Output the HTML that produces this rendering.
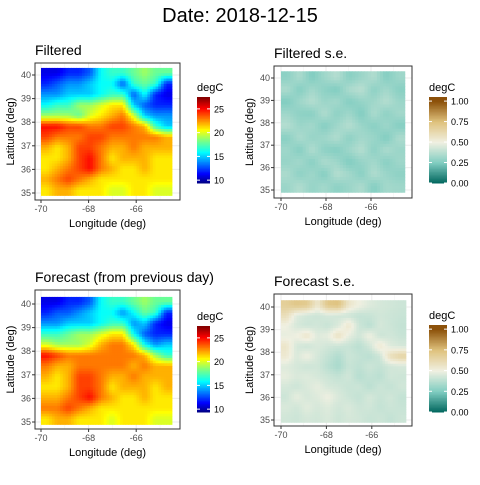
<!DOCTYPE html>
<html><head><meta charset="utf-8"><style>
body{margin:0;background:#fff;font-family:"Liberation Sans",sans-serif;}
svg text{font-family:"Liberation Sans",sans-serif;}
</style></head><body>
<svg id="c" width="480" height="480" xmlns="http://www.w3.org/2000/svg">
<text x="240" y="22" font-size="20" text-anchor="middle" fill="#000">Date: 2018-12-15</text>
</svg>
<script>
const lonTicks=[-70,-68,-66];
const latTicks=[35,36,37,38,39,40];
const tempTicks=[10,15,20,25];
const seTicks=[0,0.25,0.5,0.75,1];
const seTickLabels=["0.00","0.25","0.50","0.75","1.00"];
const filteredTemp=[
[11,11,12,12,13,16,17,17,18,19,18,18],
[12,13,14,14,15,16,16,13,17,18,17,12],
[14,14,15,15,15,16,17,17,13,16,12,11],
[16,17,17,19,19,20,21,21,15,13,12,12],
[19,19,19,18,20,21,22,23,20,15,14,14],
[25,25,24,24,23,23,24,24,23,22,17,15],
[24,23,23,23,24,24,23,23,23,23,23,22],
[22,21,22,24,24,23,22,22,23,22,22,22],
[21,21,22,24,25,23,21,22,22,22,21,21],
[21,22,23,24,25,23,22,21,21,22,21,21],
[22,23,24,23,22,21,21,21,21,21,21,21],
[21,22,22,21,21,21,20,20,21,21,20,20]];
const forecastTemp=[
[11,11,12,12,13,16,17,17,18,19,18,18],
[12,13,13,14,15,16,16,14,16,18,17,12],
[14,14,15,15,15,16,17,17,14,15,12,11],
[17,17,18,19,19,20,21,21,16,13,12,12],
[20,19,19,19,20,22,23,23,21,16,14,15],
[25,24,23,23,23,23,23,23,23,22,19,17],
[23,22,22,23,23,23,23,23,22,23,22,22],
[22,21,22,24,24,23,22,22,23,22,22,22],
[21,21,22,24,24,23,21,22,22,22,21,22],
[22,22,23,24,25,23,22,21,21,22,21,21],
[23,23,24,23,22,21,21,21,21,21,21,21],
[21,22,22,21,21,21,20,21,21,21,20,20]];
const filteredSE=[
[0.28,0.35,0.25,0.32,0.37,0.27,0.31,0.36,0.26,0.32],
[0.35,0.26,0.33,0.28,0.25,0.35,0.38,0.28,0.33,0.27],
[0.25,0.32,0.37,0.31,0.33,0.26,0.30,0.32,0.37,0.31],
[0.32,0.28,0.27,0.36,0.28,0.32,0.25,0.35,0.28,0.33],
[0.37,0.31,0.33,0.26,0.32,0.37,0.31,0.27,0.32,0.26],
[0.27,0.35,0.30,0.32,0.36,0.28,0.33,0.31,0.25,0.35],
[0.32,0.26,0.36,0.28,0.26,0.32,0.37,0.28,0.35,0.31],
[0.30,0.33,0.27,0.35,0.32,0.25,0.30,0.33,0.27,0.32],
[0.35,0.28,0.32,0.26,0.37,0.33,0.27,0.36,0.31,0.28],
[0.31,0.36,0.30,0.33,0.28,0.31,0.35,0.26,0.33,0.32]];
const forecastSE=[
[0.68,0.72,0.70,0.55,0.72,0.74,0.56,0.50,0.46,0.44,0.43,0.42],
[0.60,0.46,0.43,0.42,0.44,0.43,0.42,0.40,0.41,0.43,0.42,0.41],
[0.50,0.44,0.42,0.43,0.41,0.45,0.55,0.42,0.38,0.44,0.42,0.40],
[0.48,0.50,0.56,0.46,0.48,0.58,0.48,0.43,0.50,0.42,0.43,0.41],
[0.56,0.44,0.42,0.45,0.43,0.42,0.41,0.38,0.43,0.54,0.46,0.44],
[0.54,0.45,0.50,0.44,0.40,0.36,0.42,0.40,0.38,0.42,0.60,0.66],
[0.46,0.44,0.42,0.43,0.38,0.34,0.41,0.39,0.42,0.40,0.43,0.44],
[0.48,0.45,0.46,0.44,0.42,0.40,0.43,0.37,0.40,0.38,0.43,0.42],
[0.44,0.42,0.45,0.48,0.44,0.43,0.41,0.42,0.38,0.42,0.40,0.43],
[0.42,0.48,0.44,0.46,0.50,0.45,0.42,0.40,0.44,0.41,0.43,0.40],
[0.45,0.43,0.47,0.44,0.46,0.43,0.45,0.42,0.43,0.40,0.42,0.41],
[0.43,0.42,0.44,0.43,0.45,0.42,0.44,0.43,0.41,0.42,0.40,0.42]];

const NS="http://www.w3.org/2000/svg";
const svg=document.getElementById('c');
function el(tag,attrs,parent){const e=document.createElementNS(NS,tag);for(const k in attrs)e.setAttribute(k,attrs[k]);(parent||svg).appendChild(e);return e;}
function lerp(a,b,t){return a.map((v,i)=>Math.round(v+(b[i]-v)*t));}
function ramp(stops,t){t=Math.max(0,Math.min(1,t));for(let i=1;i<stops.length;i++){if(t<=stops[i][0]){const s=stops[i-1],e=stops[i];const c=lerp(s[1],e[1],(t-s[0])/(e[0]-s[0]));return `rgb(${c})`;}}return `rgb(${stops[stops.length-1][1]})`;}
const jet=[[0,[0,0,128]],[0.11,[0,0,255]],[0.36,[0,255,255]],[0.5,[128,255,128]],[0.62,[255,255,0]],[0.87,[255,0,0]],[1,[128,0,0]]];
const brbg=[[0,[1,102,94]],[0.25,[128,205,193]],[0.5,[240,240,225]],[0.75,[223,194,125]],[1,[140,81,10]]];
const tMin=9.4,tMax=27.5;
function jetCol(v){return ramp(jet,(v-tMin)/(tMax-tMin));}
function seCol(v){return ramp(brbg,v);}
function sample(grid,fr,fc){
  const R=grid.length,C=grid[0].length;
  fr=Math.max(0,Math.min(R-1,fr));fc=Math.max(0,Math.min(C-1,fc));
  const r0=Math.floor(fr),c0=Math.floor(fc),r1=Math.min(R-1,r0+1),c1=Math.min(C-1,c0+1);
  const tr=fr-r0,tc=fc-c0;
  const a=grid[r0][c0]*(1-tc)+grid[r0][c1]*tc,b=grid[r1][c0]*(1-tc)+grid[r1][c1]*tc;
  return a*(1-tr)+b*tr;
}

function panel(o){
  const g=el('g',{});
  
  
  const lx=lon=>o.x0+(lon+70)*o.pxLon;
  const ly=lat=>o.y40+(40-lat)*o.pxLat;
  const t=el('text',{x:o.bx,y:o.by-8,'font-size':14,fill:'#000'},g);t.textContent=o.title;
  
  el('rect',{x:o.bx,y:o.by,width:o.bw,height:o.bh,fill:'#fff'},g);
  [-69,-67,-65].forEach(v=>el('line',{x1:lx(v),x2:lx(v),y1:o.by,y2:o.by+o.bh,stroke:'#f0f0f0','stroke-width':0.5},g));
  lonTicks.forEach(v=>el('line',{x1:lx(v),x2:lx(v),y1:o.by,y2:o.by+o.bh,stroke:'#ebebeb','stroke-width':1},g));
  latTicks.forEach(v=>el('line',{x1:o.bx,x2:o.bx+o.bw,y1:ly(v),y2:ly(v),stroke:'#ebebeb','stroke-width':1},g));
  const grid=o.data,R=grid.length,C=grid[0].length;
  const lonA=-70,lonB=-64.5,latA=40.3,latB=34.9;
  const S=4,SR=R*S,SC=C*S;
  const cw=(lx(lonB)-lx(lonA))/SC,ch=(ly(latB)-ly(latA))/SR;
  const hm=el('g',{},g);
  for(let r=0;r<SR;r++)for(let c=0;c<SC;c++){
    const v=sample(grid,(r+0.5)/S-0.5,(c+0.5)/S-0.5);
    const rc=el('rect',{x:(lx(lonA)+c*cw).toFixed(2),y:(ly(latA)+r*ch).toFixed(2),width:(cw+0.5).toFixed(2),height:(ch+0.5).toFixed(2),fill:o.col(v)},hm);
    
    
  }
  el('rect',{x:o.bx,y:o.by,width:o.bw,height:o.bh,fill:'none',stroke:'#333','stroke-width':1},g);
  lonTicks.forEach(v=>{el('line',{x1:lx(v),x2:lx(v),y1:o.by+o.bh,y2:o.by+o.bh+3,stroke:'#333'},g);
    const tx=el('text',{x:lx(v),y:o.by+o.bh+12,'font-size':9,fill:'#4d4d4d','text-anchor':'middle'},g);tx.textContent=v;
    });
  latTicks.forEach(v=>{el('line',{x1:o.bx-3,x2:o.bx,y1:ly(v),y2:ly(v),stroke:'#333'},g);
    const tx=el('text',{x:o.bx-4,y:ly(v)+3,'font-size':9,fill:'#4d4d4d','text-anchor':'end'},g);tx.textContent=v;
    });
  const xt=el('text',{x:o.bx+o.bw/2,y:o.by+o.bh+27,'font-size':11,fill:'#000','text-anchor':'middle'},g);xt.textContent='Longitude (deg)';
  
  const yt=el('text',{x:0,y:0,'font-size':11,fill:'#000','text-anchor':'middle',transform:`translate(${o.bx-21},${o.by+o.bh/2}) rotate(-90)`},g);yt.textContent='Latitude (deg)';
  
  const lg=el('g',{},g);
  const lt=el('text',{x:o.lx,y:o.ly-6,'font-size':11,fill:'#000'},lg);lt.textContent='degC';
  const N=60,vy=v=>o.ly+o.lh-(v-o.lmin)/(o.lmax-o.lmin)*o.lh;
  for(let i=0;i<N;i++){const v=o.lmin+(i+0.5)/N*(o.lmax-o.lmin);
    el('rect',{x:o.lx,y:(o.ly+o.lh-(i+1)/N*o.lh).toFixed(2),width:o.lw,height:(o.lh/N+0.5).toFixed(2),fill:o.col(v)},lg);}
  o.ticks.forEach((v,i)=>{const y=vy(v);
    el('line',{x1:o.lx,x2:o.lx+3,y1:y,y2:y,stroke:'#fff'},lg);el('line',{x1:o.lx+o.lw-3,x2:o.lx+o.lw,y1:y,y2:y,stroke:'#fff'},lg);
    const tx=el('text',{x:o.lx+o.lw+4,y:y+3.5,'font-size':9,fill:'#000'},lg);tx.textContent=o.tickLabels[i];});
}
panel({name:'filtered-panel',title:'Filtered',data:filteredTemp,col:jetCol,bx:35,by:63,bw:145,bh:137,x0:41,pxLon:23.8,y40:75,pxLat:23.6,
  lx:197,ly:97,lw:13,lh:86,lmin:9.4,lmax:27.5,ticks:tempTicks,tickLabels:tempTicks.map(String)});
panel({name:'filtered-se-panel',title:'Filtered s.e.',data:filteredSE,col:seCol,bx:274,by:66,bw:138,bh:132,x0:281,pxLon:22.5,y40:78,pxLat:22.4,
  lx:429,ly:97,lw:18,lh:86,lmin:0,lmax:1.05,ticks:seTicks,tickLabels:seTickLabels});
panel({name:'forecast-panel',title:'Forecast (from previous day)',data:forecastTemp,col:jetCol,bx:35,by:290,bw:145,bh:139,x0:41,pxLon:23.8,y40:304,pxLat:23.6,
  lx:197,ly:326,lw:13,lh:86,lmin:9.4,lmax:27.5,ticks:tempTicks,tickLabels:tempTicks.map(String)});
panel({name:'forecast-se-panel',title:'Forecast s.e.',data:forecastSE,col:seCol,bx:274,by:294,bw:138,bh:132,x0:281,pxLon:22.7,y40:307,pxLat:22.6,
  lx:429,ly:325,lw:18,lh:87,lmin:0,lmax:1.05,ticks:seTicks,tickLabels:seTickLabels});
</script>
</body></html>
